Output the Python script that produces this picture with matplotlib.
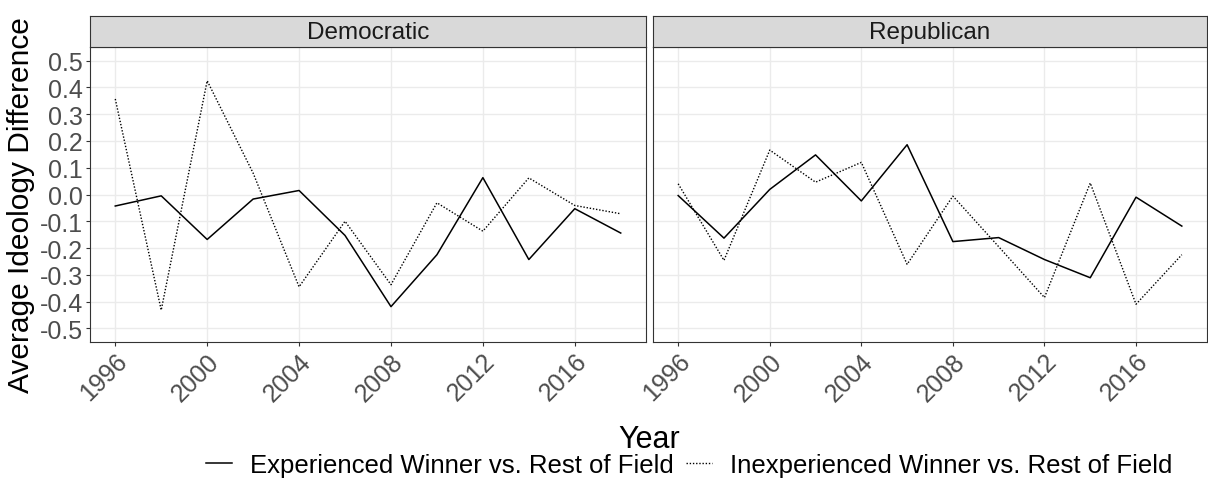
import matplotlib.pyplot as plt
import matplotlib.transforms as mtransforms
from matplotlib.lines import Line2D

plt.rcParams['font.family'] = ['Liberation Sans', 'DejaVu Sans']

# data
years = [1996, 1998, 2000, 2002, 2004, 2006, 2008, 2010, 2012, 2014, 2016, 2018]
dem_exp = [-0.043, -0.005, -0.168, -0.017, 0.015, -0.153, -0.419, -0.225, 0.063, -0.243, -0.053, -0.144]
dem_inexp = [0.357, -0.432, 0.425, 0.08, -0.345, -0.10, -0.337, -0.031, -0.137, 0.062, -0.041, -0.072]
rep_exp = [-0.004, -0.163, 0.019, 0.148, -0.024, 0.186, -0.176, -0.161, -0.243, -0.311, -0.010, -0.118]
rep_inexp = [0.04, -0.246, 0.166, 0.046, 0.12, -0.261, -0.006, -0.195, -0.385, 0.043, -0.41, -0.225]

x_ticks = [1996, 2000, 2004, 2008, 2012, 2016]
y_ticks = [-0.5, -0.4, -0.3, -0.2, -0.1, 0.0, 0.1, 0.2, 0.3, 0.4, 0.5]
series_labels = ["Experienced Winner vs. Rest of Field", "Inexperienced Winner vs. Rest of Field"]

W, H = 1208, 481
fig = plt.figure(figsize=(W / 100, H / 100), dpi=100)


def box(x0, y0, x1, y1):
    # pixel rectangle (top-left origin) -> figure fraction
    return [x0 / W, 1 - y1 / H, (x1 - x0) / W, (y1 - y0) / H]


dotted = (0, (1, 1.3))
panels = [("Democratic", dem_exp, dem_inexp, 90, 646),
          ("Republican", rep_exp, rep_inexp, 653, 1207)]

for i, (name, exp, inexp, x0, x1) in enumerate(panels):
    ax = fig.add_axes(box(x0, 48.3, x1, 342.7))
    ax.plot(years, exp, color='black', lw=1.1, linestyle='-')
    ax.plot(years, inexp, color='black', lw=1.0, linestyle=dotted)
    ax.set_xlim(1994.9, 2019.1)
    ax.set_ylim(-0.55, 0.55)
    ax.set_xticks(x_ticks)
    ax.set_xticklabels([str(y) for y in x_ticks], rotation=45, ha='right',
                       va='top', rotation_mode='anchor')
    shift = mtransforms.ScaledTranslation(7 / 100, 0, fig.dpi_scale_trans)
    for lab in ax.get_xticklabels():
        lab.set_transform(lab.get_transform() + shift)
    ax.set_yticks(y_ticks)
    if i == 0:
        ax.set_yticklabels(['%.1f' % v for v in y_ticks])
    else:
        ax.tick_params(axis='y', left=False, labelleft=False)
    ax.grid(True, color='#EBEBEB', lw=1.0)
    ax.set_axisbelow(True)
    ax.tick_params(colors='#333333', labelcolor='#4D4D4D', labelsize=18,
                   length=3, width=0.8, pad=2)
    for s in ax.spines.values():
        s.set_color('#333333')
        s.set_linewidth(0.8)

    strip = fig.add_axes(box(x0, 16.7, x1, 48.3))
    strip.set_facecolor('#D9D9D9')
    strip.set_xticks([])
    strip.set_yticks([])
    for s in strip.spines.values():
        s.set_color('#333333')
        s.set_linewidth(0.8)
    strip.text(0.5, 0.48, name, ha='center', va='center', fontsize=17.5,
               color='#1A1A1A', transform=strip.transAxes)

fig.text(21 / W, 1 - 205 / H, "Average Ideology Difference", rotation=90,
         ha='center', va='center', fontsize=21.5)
fig.text(649 / W, 1 - 440 / H, "Year", ha='center', va='center', fontsize=22)

handles = [Line2D([], [], color='black', lw=1.1, linestyle='-'),
           Line2D([], [], color='black', lw=1.0, linestyle=dotted)]
fig.legend(handles, series_labels, loc='center', ncol=2, frameon=False,
           bbox_to_anchor=(689 / W, 1 - 466 / H), fontsize=18.5,
           handlelength=1.0, handletextpad=0.7, columnspacing=0.5)

fig.savefig('out.png', dpi=100)
